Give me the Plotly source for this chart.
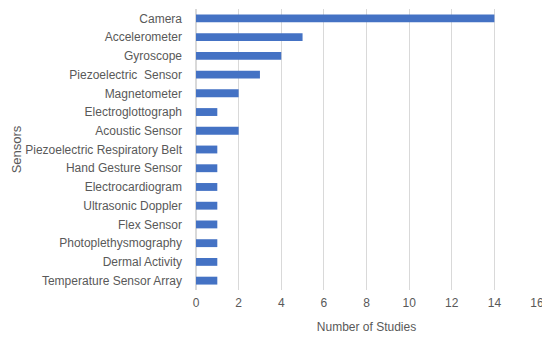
import plotly.graph_objects as go

sensors = [
    "Camera", "Accelerometer", "Gyroscope", "Piezoelectric  Sensor", "Magnetometer",
    "Electroglottograph", "Acoustic Sensor", "Piezoelectric Respiratory Belt",
    "Hand Gesture Sensor", "Electrocardiogram", "Ultrasonic Doppler", "Flex Sensor",
    "Photoplethysmography", "Dermal Activity", "Temperature Sensor Array",
]
studies = [14, 5, 4, 3, 2, 1, 2, 1, 1, 1, 1, 1, 1, 1, 1]
x_ticks = [0, 2, 4, 6, 8, 10, 12, 14, 16]

font_fam = "Liberation Sans, Arial, sans-serif"
txt = "#595959"

fig = go.Figure(go.Bar(
    x=studies, y=sensors, orientation="h",
    marker=dict(color="#4472C4", line=dict(width=0)),
    width=0.42,
))
fig.update_layout(
    width=542, height=333,
    margin=dict(l=188, r=13, t=1, b=51, autoexpand=False),
    paper_bgcolor="white", plot_bgcolor="white",
    font=dict(family=font_fam, size=12, color=txt),
    showlegend=False,
    xaxis=dict(
        range=[0, 16], tickvals=x_ticks, showgrid=True, gridcolor="#d9d9d9",
        gridwidth=1, zeroline=True, zerolinecolor="#d9d9d9", showline=False,
        ticks="", automargin=False, ticklabelstandoff=4,
        title=dict(text="Number of Studies", standoff=13, font=dict(size=12, color=txt)),
        tickfont=dict(size=12, color=txt),
    ),
    yaxis=dict(
        autorange="reversed", showgrid=False, zeroline=False, showline=False,
        ticks="", ticklabelstandoff=13, automargin=False,
        title=dict(text="Sensors", standoff=0, font=dict(size=13, color=txt)),
        tickfont=dict(size=12, color=txt),
    ),
)
fig.write_html("out.html")
